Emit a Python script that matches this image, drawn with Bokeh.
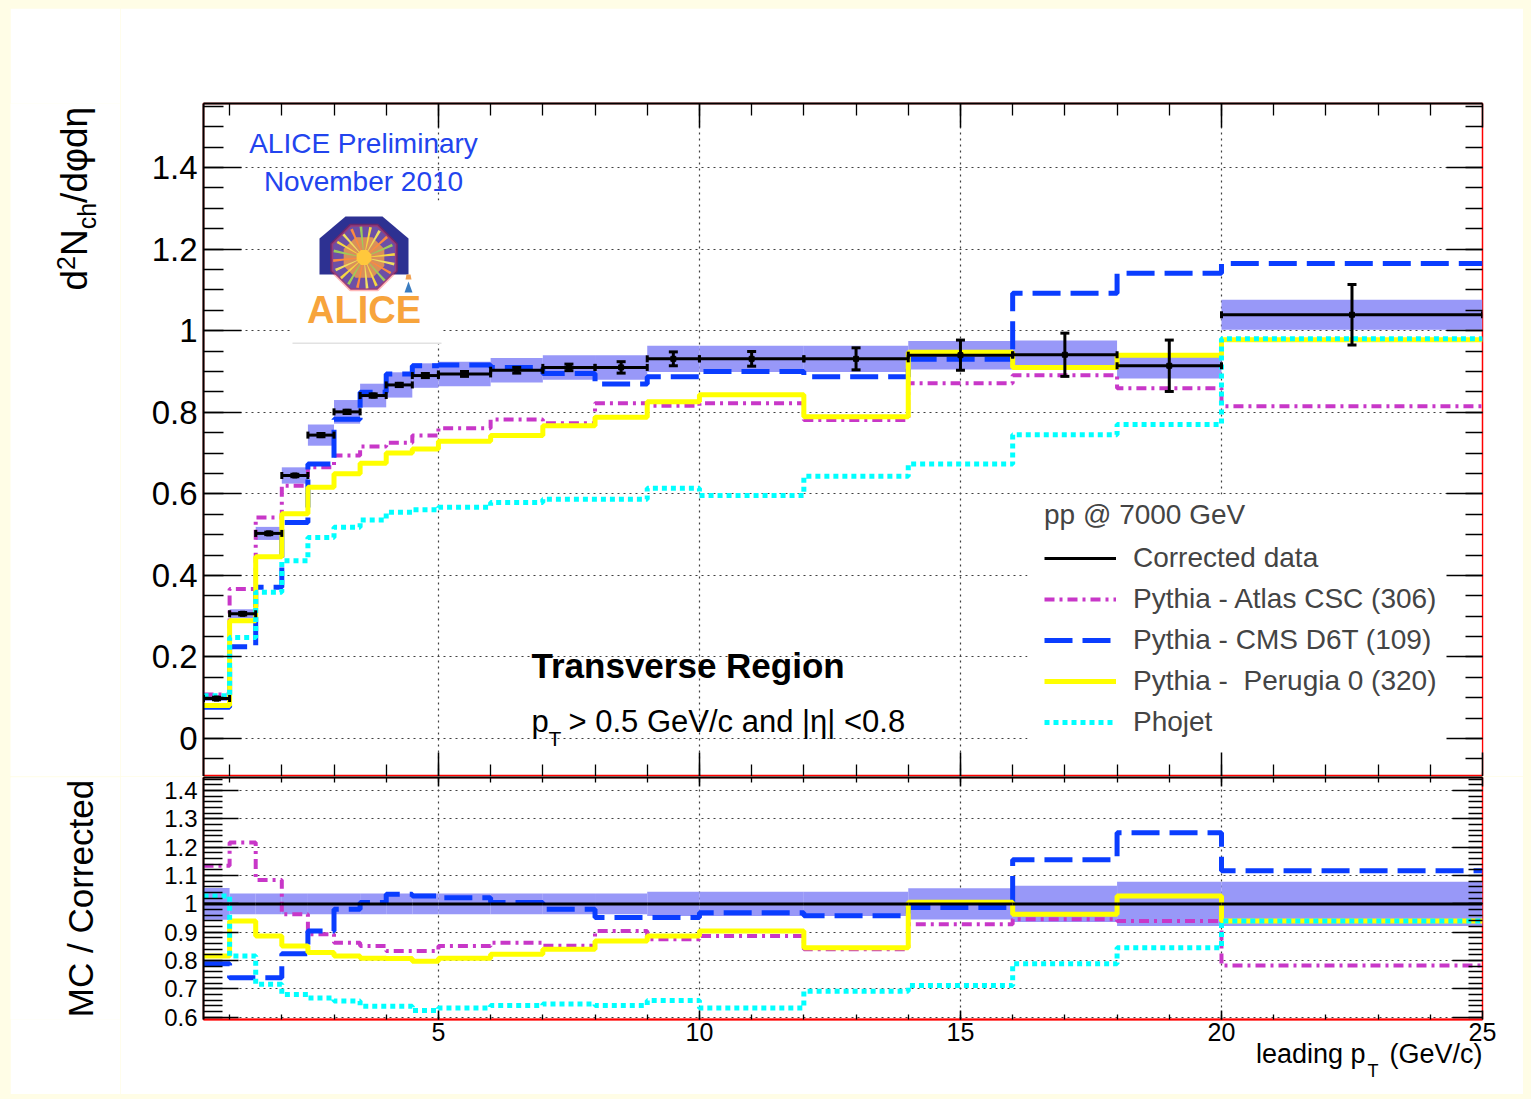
import math
import numpy as np
from bokeh.plotting import figure
from bokeh.layouts import column, row
from bokeh.models import (Range1d, FixedTicker, LinearAxis, Label, Legend, LegendItem,
                          BoxAnnotation, PolyAnnotation)
from bokeh.embed import file_html
from bokeh.resources import INLINE

# ------------------------------------------------------------------ data
bin_edges = [0.5, 1, 1.5, 2, 2.5, 3, 3.5, 4, 4.5, 5, 6, 7, 8, 9, 10, 12, 14, 16, 18, 20, 25]

corrected = [0.098, 0.306, 0.503, 0.645, 0.744, 0.801, 0.841, 0.867, 0.890, 0.894,
             0.903, 0.910, 0.910, 0.931, 0.931, 0.931, 0.940, 0.941, 0.914, 1.039]
stat_err = [0.003, 0.003, 0.003, 0.003, 0.004, 0.004, 0.004, 0.004, 0.005, 0.006,
            0.007, 0.008, 0.014, 0.017, 0.018, 0.027, 0.037, 0.053, 0.063, 0.074]
sys_err = [0.006, 0.011, 0.016, 0.020, 0.026, 0.029, 0.029, 0.031, 0.030, 0.030,
           0.030, 0.030, 0.030, 0.032, 0.032, 0.032, 0.035, 0.035, 0.031, 0.037]

atlas_csc = [0.108, 0.367, 0.542, 0.620, 0.665, 0.694, 0.716, 0.725, 0.743, 0.761,
             0.782, 0.773, 0.822, 0.816, 0.822, 0.781, 0.871, 0.891, 0.859, 0.815]
cms_d6t = [0.077, 0.225, 0.371, 0.530, 0.673, 0.783, 0.849, 0.894, 0.914, 0.916,
           0.910, 0.895, 0.869, 0.887, 0.900, 0.887, 0.930, 1.092, 1.141, 1.165]
perugia0 = [0.081, 0.289, 0.446, 0.551, 0.616, 0.649, 0.675, 0.700, 0.710, 0.729,
            0.743, 0.767, 0.788, 0.826, 0.843, 0.789, 0.947, 0.910, 0.940, 0.978]
phojet = [0.105, 0.248, 0.359, 0.436, 0.493, 0.518, 0.536, 0.555, 0.561, 0.567,
          0.579, 0.587, 0.587, 0.614, 0.596, 0.643, 0.673, 0.745, 0.770, 0.980]

ratio_data = [1.0] * 20
ratio_sys = [0.056, 0.037, 0.037, 0.037, 0.037, 0.037, 0.037, 0.037, 0.037, 0.037,
             0.037, 0.037, 0.037, 0.043, 0.043, 0.043, 0.055, 0.064, 0.078, 0.078]
ratio_atlas = [1.135, 1.217, 1.084, 0.963, 0.893, 0.863, 0.851, 0.834, 0.834, 0.851,
               0.863, 0.852, 0.904, 0.875, 0.887, 0.840, 0.928, 0.946, 0.940, 0.783]
ratio_cms = [0.789, 0.739, 0.739, 0.824, 0.904, 0.981, 1.005, 1.034, 1.028, 1.022,
             1.005, 0.981, 0.952, 0.952, 0.969, 0.958, 0.987, 1.156, 1.251, 1.117]
ratio_perugia = [0.816, 0.940, 0.887, 0.851, 0.828, 0.816, 0.808, 0.807, 0.798, 0.808,
                 0.822, 0.840, 0.869, 0.887, 0.904, 0.845, 1.006, 0.963, 1.028, 0.940]
ratio_phojet = [1.028, 0.816, 0.716, 0.680, 0.668, 0.657, 0.639, 0.639, 0.624, 0.633,
                0.641, 0.647, 0.641, 0.659, 0.633, 0.692, 0.712, 0.789, 0.845, 0.940]

x_ticks = [5, 10, 15, 20, 25]
x_tick_labels = ["5", "10", "15", "20", "25"]
y_ticks_top = [0, 0.2, 0.4, 0.6, 0.8, 1.0, 1.2, 1.4]
y_tick_labels_top = ["0", "0.2", "0.4", "0.6", "0.8", "1", "1.2", "1.4"]
y_ticks_bot = [0.6, 0.7, 0.8, 0.9, 1.0, 1.1, 1.2, 1.3, 1.4]
y_tick_labels_bot = ["0.6", "0.7", "0.8", "0.9", "1", "1.1", "1.2", "1.3", "1.4"]

legend_title = "pp @ 7000 GeV"
series_names = ["Corrected data", "Pythia - Atlas CSC (306)", "Pythia - CMS D6T (109)",
                "Pythia -  Perugia 0 (320)", "Phojet"]

# ------------------------------------------------------------------ style / layout
FONT = "Liberation Sans"
C_ATLAS, C_CMS, C_PER, C_PHO = "#c837c8", "#0a3dff", "#ffff00", "#00ffff"
C_BAND = "#9898f8"
PAD_L, PAD_T, PAD_R, PAD_B = 10, 8, 8, 5
W = 1531 - PAD_L - PAD_R            # 1513
LW = 110                             # width of the left title strip
PAGE_R = 1531 - PAD_R                # 1523
FRAME_L, FRAME_R = 203, 1482
TOP_FRAME_T, TOP_FRAME_B = 103, 776
BOT_FRAME_T, BOT_FRAME_B, BOT_END = 777, 1019, 1094
X0, X1 = 0.5, 25.0
XT_H = 62                            # height of the overlaid x-title strip

lo = np.array(bin_edges[:-1], dtype=float)
hi = np.array(bin_edges[1:], dtype=float)
mid = (lo + hi) / 2
edges = np.array(bin_edges, dtype=float)


def stepvals(v):
    return list(v) + [v[-1]]


def make_fig(height, yr, mb_top, mb_bottom):
    p = figure(width=W - LW, height=height, x_range=Range1d(X0, X1), y_range=yr,
               output_backend="svg", toolbar_location=None,
               min_border_left=FRAME_L - (PAD_L + LW), min_border_right=PAGE_R - FRAME_R,
               min_border_top=mb_top, min_border_bottom=mb_bottom)
    p.outline_line_color = "#ff0000"
    p.outline_line_width = 1.5
    p.background_fill_color = "white"
    p.border_fill_color = "white"
    for g in (p.xgrid[0], p.ygrid[0]):
        g.grid_line_color = "#404040"
        g.grid_line_dash = "2 4"
        g.grid_line_width = 1.2
    return p


def blank_fig(width, height, **kw):
    p = figure(width=width, height=height, output_backend="svg", toolbar_location=None,
               x_axis_type=None, y_axis_type=None, min_border=0,
               min_border_left=0, min_border_right=0, min_border_top=0, min_border_bottom=0,
               x_range=Range1d(0, 1), y_range=Range1d(0, 1), **kw)
    p.outline_line_color = None
    p.background_fill_color = "white"
    p.border_fill_color = "white"
    p.grid.visible = False
    return p


def style_axis(ax, maj, mnr, line_color, label_size=None, standoff=6):
    ax.major_tick_in = maj
    ax.major_tick_out = 0
    ax.minor_tick_in = mnr
    ax.minor_tick_out = 0
    ax.major_tick_line_color = "black"
    ax.minor_tick_line_color = "black"
    ax.major_tick_line_width = 1.5
    ax.minor_tick_line_width = 1.3
    ax.axis_line_color = line_color
    ax.axis_line_width = 2
    if label_size is None:
        ax.major_label_text_font_size = "0px"
        ax.major_label_text_color = None
        ax.major_label_standoff = 0
    else:
        ax.major_label_text_font_size = label_size
        ax.major_label_text_font = FONT
        ax.major_label_text_color = "black"
        ax.major_label_standoff = standoff


def add_label(p, fl, fb, X, Y, text, size, color="black", style="normal",
              align="left", angle=0.0):
    # (X, Y): page position of the text's vertical middle; (fl, fb): page position
    # of the bottom-left corner of the figure frame that holds the label
    p.add_layout(Label(x=X - fl, y=fb - Y, x_units="screen", y_units="screen",
                       text=text, text_font=FONT, text_font_size=f"{size}px",
                       text_color=color, text_font_style=style, text_align=align,
                       text_baseline="middle", angle=angle))


x_minor = list(range(1, 25))
y_minor_top = [round(-0.05 + 0.05 * i, 2) for i in range(33)]
y_minor_bot = [round(0.6 + 0.02 * i, 2) for i in range(43)]

# ================================================================== upper panel
p1 = make_fig(TOP_FRAME_B - PAD_T, Range1d(-0.093, 1.557), TOP_FRAME_T - PAD_T, 0)

xb = p1.xaxis[0]
xb.ticker = FixedTicker(ticks=x_ticks, minor_ticks=x_minor)
style_axis(xb, 24, 12, None)
xa = LinearAxis(ticker=FixedTicker(ticks=x_ticks, minor_ticks=x_minor))
style_axis(xa, 24, 12, "black")
p1.add_layout(xa, "above")

yl = p1.yaxis[0]
yl.ticker = FixedTicker(ticks=y_ticks_top, minor_ticks=y_minor_top)
yl.major_label_overrides = dict(zip(y_ticks_top, y_tick_labels_top))
style_axis(yl, 38, 20, "black", "33px", 6)
yr_ax = LinearAxis(ticker=FixedTicker(ticks=y_ticks_top, minor_ticks=y_minor_top))
style_axis(yr_ax, 36, 17, None)
p1.add_layout(yr_ax, "right")

FL, FB = FRAME_L, TOP_FRAME_B


def screen_box(p, l, r, t, b, color, level="glyph"):
    p.add_layout(BoxAnnotation(left=l - FL, right=r - FL, top=FB - t, bottom=FB - b,
                               left_units="screen", right_units="screen", top_units="screen",
                               bottom_units="screen", fill_color=color, fill_alpha=1,
                               line_color=None, level=level))


# white boxes hiding the grid behind the logo and the legend
screen_box(p1, 292, 441, 200, 343, "white")
screen_box(p1, 292, 441, 342, 343.5, "#e2e2e2")
screen_box(p1, 1027, FRAME_R - 1, 494, 772, "white")

# systematic band
p1.quad(left=lo, right=hi, bottom=np.array(corrected) - np.array(sys_err),
        top=np.array(corrected) + np.array(sys_err), fill_color=C_BAND, line_color=None)

# models
r_atlas = p1.step(edges, stepvals(atlas_csc), mode="after", line_color=C_ATLAS,
                  line_width=4, line_dash="10 5 3 5")
r_cms = p1.step(edges, stepvals(cms_d6t), mode="after", line_color=C_CMS,
                line_width=5, line_dash="28 10")
r_per = p1.step(edges, stepvals(perugia0), mode="after", line_color=C_PER, line_width=5)
r_pho = p1.step(edges, stepvals(phojet), mode="after", line_color=C_PHO,
                line_width=5, line_dash="5 4")

# data
cor = np.array(corrected)
se = np.array(stat_err)
r_data = p1.segment(x0=lo, x1=hi, y0=cor, y1=cor, line_color="black", line_width=3)
p1.segment(x0=mid, x1=mid, y0=cor - se, y1=cor + se, line_color="black", line_width=3)
p1.dash(x=np.concatenate([mid, mid]), y=np.concatenate([cor - se, cor + se]), size=9,
        line_color="black", line_width=3)
p1.dash(x=np.concatenate([lo, hi]), y=np.concatenate([cor, cor]), size=7, angle=math.pi / 2,
        line_color="black", line_width=3)
p1.scatter(x=mid, y=cor, marker="square", size=5, color="black")

legend = Legend(items=[LegendItem(label=series_names[0], renderers=[r_data]),
                       LegendItem(label=series_names[1], renderers=[r_atlas]),
                       LegendItem(label=series_names[2], renderers=[r_cms]),
                       LegendItem(label=series_names[3], renderers=[r_per]),
                       LegendItem(label=series_names[4], renderers=[r_pho])],
                title=legend_title, location=(1044 - FL, FB - 739),
                orientation="vertical", padding=12, margin=0, spacing=7,
                glyph_width=72, glyph_height=34, label_height=34, label_standoff=17,
                label_text_font=FONT, label_text_font_size="28px",
                title_text_font=FONT, title_text_font_size="28px",
                title_text_font_style="normal", title_standoff=10,
                background_fill_alpha=0, border_line_color=None)
p1.add_layout(legend)


# ALICE logo
def poly(p, pts, color, line_color=None, lw=0):
    p.add_layout(PolyAnnotation(xs=[x - FL for x, _ in pts], ys=[FB - y for _, y in pts],
                                xs_units="screen", ys_units="screen", fill_color=color,
                                fill_alpha=1, line_color=line_color, line_width=lw))


def octagon(cx, cy, r):
    return [(cx + r * math.cos(math.radians(22.5 + 45 * k)),
             cy - r * math.sin(math.radians(22.5 + 45 * k))) for k in range(8)]


poly(p1, [(319, 238), (345, 216), (382, 216), (408, 238), (408, 274), (319, 274)], "#2d3192")
cx, cy = 363.5, 257.0
poly(p1, octagon(cx, cy, 35), "#6c4fa6", "#ff1010", 3)
poly(p1, octagon(cx, cy, 22), "#d9905a")
spoke_cols = ["#f6d743", "#9ccc5a", "#ff8a3d", "#f0e060"]
for k in range(20):
    t = 2 * math.pi * k / 20 + 0.1
    poly(p1, [(cx, cy), (cx + 31 * math.cos(t - 0.045), cy - 31 * math.sin(t - 0.045)),
              (cx + 31 * math.cos(t + 0.045), cy - 31 * math.sin(t + 0.045))], spoke_cols[k % 4])
poly(p1, octagon(cx, cy, 8), "#ffc83c")
poly(p1, [(404, 292), (412, 292), (408, 281)], "#3a7cc0")
poly(p1, [(406, 274), (410, 274), (411, 279), (405, 279)], "#f0a050")
add_label(p1, FL, FB, 363.5, 309, "ALICE", 38, color="#f7a43c", style="bold", align="center")

# texts inside the upper frame
add_label(p1, FL, FB, 363, 143, "ALICE Preliminary", 28, color="#2244ee", align="center")
add_label(p1, FL, FB, 363, 181, "November 2010", 28, color="#2244ee", align="center")
add_label(p1, FL, FB, 531, 665, "Transverse Region", 35, style="bold")
add_label(p1, FL, FB, 531, 721, "p", 31)
add_label(p1, FL, FB, 548, 738, "T", 21)
add_label(p1, FL, FB, 568, 721, "> 0.5 GeV/c and |\u03b7| <0.8", 31)

# ------------------------------------------------------------------ left strip: y title
# (frames in a row are aligned, so this strip's frame spans the upper panel's frame)
L1 = blank_fig(LW, TOP_FRAME_B - PAD_T)
A = math.pi / 2
L1FL, L1FB = PAD_L, TOP_FRAME_B
add_label(L1, L1FL, L1FB, 74, 290, "d", 37, angle=A)
add_label(L1, L1FL, L1FB, 65, 269.4, "2", 25, angle=A)
add_label(L1, L1FL, L1FB, 74, 255.5, "N", 37, angle=A)
add_label(L1, L1FL, L1FB, 86, 228.8, "ch", 25, angle=A)
add_label(L1, L1FL, L1FB, 74, 202.4, "/d\u03c6d\u03b7", 37, angle=A)

# ================================================================== lower panel
p2 = make_fig(BOT_END - TOP_FRAME_B, Range1d(0.592, 1.446),
              BOT_FRAME_T - TOP_FRAME_B, BOT_END - BOT_FRAME_B)

xb2 = p2.xaxis[0]
xb2.ticker = FixedTicker(ticks=x_ticks, minor_ticks=x_minor)
xb2.major_label_overrides = dict(zip(x_ticks, x_tick_labels))
style_axis(xb2, 9, 5, "#ff0000", "25px", 3)
xa2 = LinearAxis(ticker=FixedTicker(ticks=x_ticks, minor_ticks=x_minor))
style_axis(xa2, 9, 5, "black")
p2.add_layout(xa2, "above")

yl2 = p2.yaxis[0]
yl2.ticker = FixedTicker(ticks=y_ticks_bot, minor_ticks=y_minor_bot)
yl2.major_label_overrides = dict(zip(y_ticks_bot, y_tick_labels_bot))
style_axis(yl2, 35, 19, "black", "24px", 6)
yr2 = LinearAxis(ticker=FixedTicker(ticks=y_ticks_bot, minor_ticks=y_minor_bot))
style_axis(yr2, 30, 14, None)
p2.add_layout(yr2, "right")

rs = np.array(ratio_sys)
rd = np.array(ratio_data)
p2.quad(left=lo, right=hi, bottom=rd - rs, top=rd + rs, fill_color=C_BAND, line_color=None)
p2.step(edges, stepvals(ratio_atlas), mode="after", line_color=C_ATLAS, line_width=4,
        line_dash="10 5 3 5")
p2.step(edges, stepvals(ratio_cms), mode="after", line_color=C_CMS, line_width=5,
        line_dash="28 10")
p2.step(edges, stepvals(ratio_perugia), mode="after", line_color=C_PER, line_width=5)
p2.step(edges, stepvals(ratio_phojet), mode="after", line_color=C_PHO, line_width=5,
        line_dash="5 4")
p2.segment(x0=lo, x1=hi, y0=rd, y1=rd, line_color="black", line_width=3)

# left strip of the lower panel: y title (its frame is aligned with the lower frame)
L2 = blank_fig(LW, BOT_END - TOP_FRAME_B)
add_label(L2, PAD_L, BOT_FRAME_B, 80, 898, "MC / Corrected", 35, align="center", angle=A)

# ------------------------------------------------------------------ x title strip, overlaid
# on the bottom border of the lower panel (transparent background)
L3 = blank_fig(W, XT_H, margin=(-XT_H, 0, 0, 0))
L3.background_fill_color = None
L3.border_fill_color = None
L3FL, L3FB = PAD_L, BOT_END
add_label(L3, L3FL, L3FB, 1365, 1053.5, "leading p", 27, align="right")
add_label(L3, L3FL, L3FB, 1367, 1070.5, "T", 18)
add_label(L3, L3FL, L3FB, 1482, 1053.5, "(GeV/c)", 27, align="right")

layout = column(row(L1, p1, spacing=0), row(L2, p2, spacing=0), L3, spacing=0,
                styles={"background-color": "#fffde6",
                        "padding": f"{PAD_T}px {PAD_R}px {PAD_B}px {PAD_L}px"})

open("out.html", "w").write(file_html(layout, INLINE))
